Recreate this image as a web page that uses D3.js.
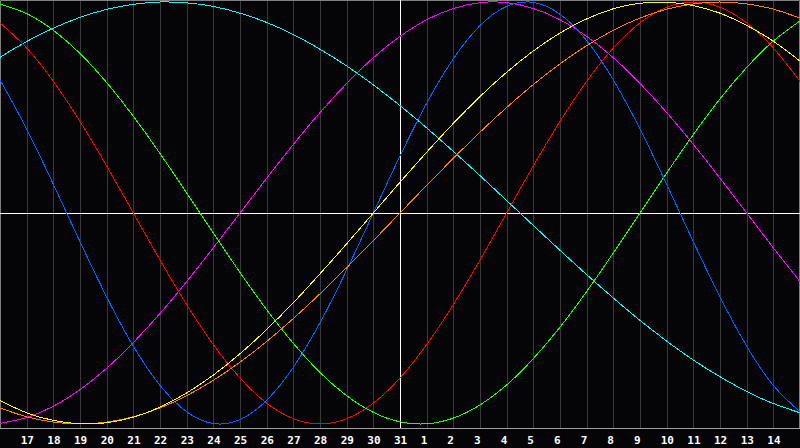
<!DOCTYPE html>
<html>
<head>
<meta charset="utf-8">
<script src="https://cdn.jsdelivr.net/npm/d3@7"></script>
<style>
  html, body { margin: 0; padding: 0; background: #000; }
  svg { display: block; }
</style>
</head>
<body>
<script>
// day numbers along the bottom (first and last day are not labelled)
var days = [16, 17, 18, 19, 20, 21, 22, 23, 24, 25, 26, 27, 28, 29, 30, 31,
            1, 2, 3, 4, 5, 6, 7, 8, 9, 10, 11, 12, 13, 14, 15];

// one value per day, -1 .. 1
var physical = [0.631, 0.398, 0.136, -0.136, -0.398, -0.631, -0.817, -0.942, -0.998, -0.979, -0.888,
                -0.731, -0.520, -0.270, 0.000, 0.270, 0.520, 0.731, 0.888, 0.979, 0.998,
                0.942, 0.817, 0.631, 0.398, 0.136, -0.136, -0.398, -0.631, -0.817, -0.942];
var emotional = [0.901, 0.782, 0.624, 0.434, 0.223, 0.000, -0.223, -0.434, -0.624, -0.782, -0.901,
                 -0.975, -1.000, -0.975, -0.901, -0.782, -0.624, -0.434, -0.223, 0.000, 0.223,
                 0.434, 0.624, 0.782, 0.901, 0.975, 1.000, 0.975, 0.901, 0.782, 0.624];
var intellectual = [0.990, 0.945, 0.866, 0.756, 0.618, 0.458, 0.282, 0.095, -0.095, -0.282, -0.458,
                    -0.618, -0.756, -0.866, -0.945, -0.990, -0.999, -0.972, -0.910, -0.815, -0.690,
                    -0.541, -0.372, -0.189, 0.000, 0.189, 0.372, 0.541, 0.690, 0.815, 0.910];
var intuitive = [-0.997, -0.969, -0.916, -0.837, -0.736, -0.614, -0.476, -0.325, -0.165, 0.000, 0.165,
                 0.325, 0.476, 0.614, 0.736, 0.837, 0.916, 0.969, 0.997, 0.997, 0.969,
                 0.916, 0.837, 0.736, 0.614, 0.476, 0.325, 0.165, 0.000, -0.165, -0.325];
var aesthetic = [-0.889, -0.947, -0.983, -0.999, -0.994, -0.968, -0.920, -0.853, -0.768, -0.667, -0.552,
                 -0.425, -0.288, -0.146, 0.000, 0.146, 0.288, 0.425, 0.552, 0.667, 0.768,
                 0.853, 0.920, 0.968, 0.994, 0.999, 0.983, 0.947, 0.889, 0.814, 0.720];
var awareness = [-0.924, -0.966, -0.991, -1.000, -0.991, -0.966, -0.924, -0.866, -0.793, -0.707, -0.609,
                 -0.500, -0.383, -0.259, -0.131, 0.000, 0.131, 0.259, 0.383, 0.500, 0.609,
                 0.707, 0.793, 0.866, 0.924, 0.966, 0.991, 1.000, 0.991, 0.966, 0.924];
var spiritual = [0.738, 0.813, 0.876, 0.927, 0.965, 0.989, 1.000, 0.996, 0.979, 0.947, 0.903,
                 0.846, 0.776, 0.697, 0.607, 0.509, 0.403, 0.292, 0.177, 0.059, -0.059,
                 -0.177, -0.292, -0.403, -0.509, -0.607, -0.697, -0.776, -0.846, -0.903, -0.947];

var series = [
  { name: "spiritual",    values: spiritual,    color: "#00ffff" },
  { name: "intuitive",    values: intuitive,    color: "#ff00ff" },
  { name: "emotional",    values: emotional,    color: "#ff0000" },
  { name: "intellectual", values: intellectual, color: "#22ff00" },
  { name: "physical",     values: physical,     color: "#0066ff" },
  { name: "awareness",    values: awareness,    color: "#ff8000" },
  { name: "aesthetic",    values: aesthetic,    color: "#ffff00" }
];

var width = 800, height = 448;
var plotBottom = 428;

var svg = d3.select("body").append("svg")
    .attr("width", width)
    .attr("height", height)
    .style("background", "#050508");

var x = d3.scaleLinear().domain([0, days.length - 1]).range([0, width]),
    y = d3.scaleLinear().domain([-1, 1]).range([424, 2]);

// day grid
svg.append("g")
  .selectAll("line")
  .data(d3.range(1, days.length - 1).filter(function(i) { return i != 15; }))
  .enter().append("line")
    .attr("x1", function(i) { return Math.round(x(i)) + 0.5; })
    .attr("x2", function(i) { return Math.round(x(i)) + 0.5; })
    .attr("y1", 0)
    .attr("y2", plotBottom)
    .attr("stroke", "#3a3a3a")
    .attr("stroke-width", 1);

// frame
svg.append("path")
    .attr("d", "M0.5," + plotBottom + "V0.5H799.5V" + plotBottom)
    .attr("fill", "none")
    .attr("stroke", "#808080");
svg.append("line")
    .attr("x1", 0).attr("x2", width)
    .attr("y1", plotBottom + 0.5).attr("y2", plotBottom + 0.5)
    .attr("stroke", "#a0a0a0");

// today + zero line
svg.append("line")
    .attr("x1", 0).attr("x2", width)
    .attr("y1", Math.round(y(0)) + 0.5).attr("y2", Math.round(y(0)) + 0.5)
    .attr("stroke", "#ffffff");
svg.append("line")
    .attr("x1", x(15) + 0.5).attr("x2", x(15) + 0.5)
    .attr("y1", 0).attr("y2", plotBottom)
    .attr("stroke", "#ffffff");

var line = d3.line()
    .x(function(d, i) { return x(i); })
    .y(function(d) { return y(d); })
    .curve(d3.curveNatural);

svg.append("g")
  .selectAll("path")
  .data(series)
  .enter().append("path")
    .attr("d", function(s) { return line(s.values); })
    .attr("fill", "none")
    .attr("stroke", function(s) { return s.color; })
    .attr("stroke-width", 1)
    .attr("shape-rendering", "crispEdges");

// day labels
svg.append("g")
  .selectAll("text")
  .data(d3.range(1, days.length - 1))
  .enter().append("text")
    .attr("x", function(i) { return x(i) - 6; })
    .attr("y", 443.5)
    .attr("fill", "#ffffff")
    .style("font", "bold 11px 'DejaVu Sans Mono', monospace")
    .text(function(i) { return days[i]; });
</script>
</body>
</html>
